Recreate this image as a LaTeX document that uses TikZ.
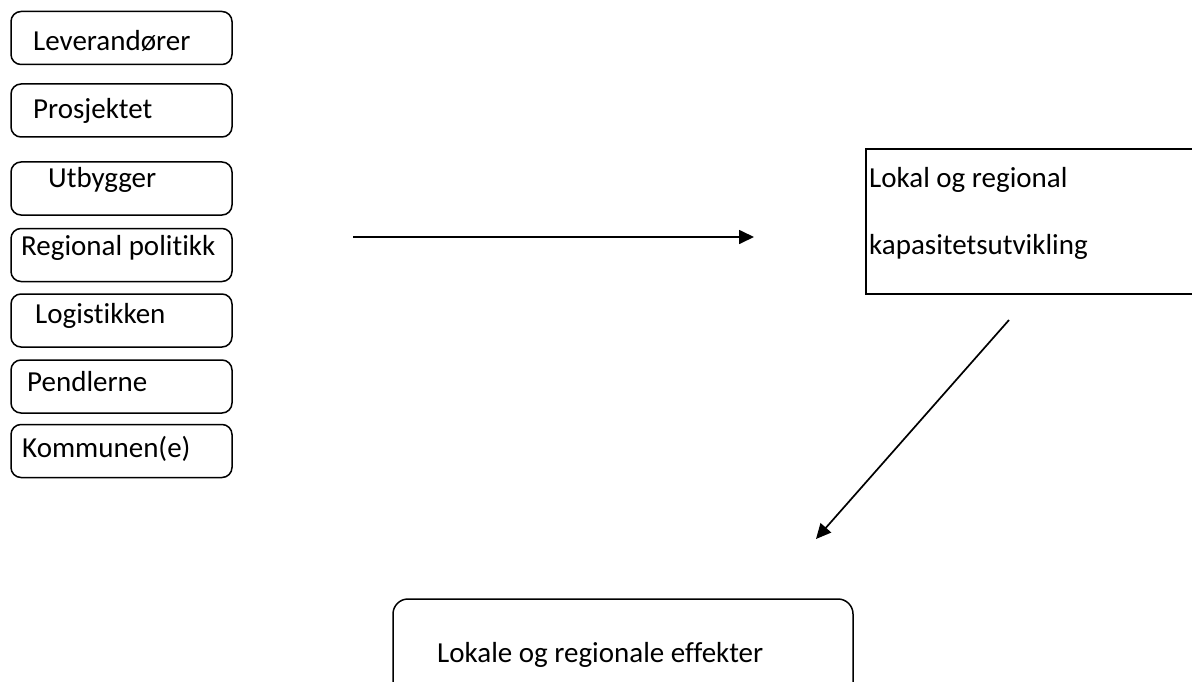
\documentclass[tikz,border=0pt]{standalone}
\usepackage{fontspec}
\setmainfont[Ligatures={NoCommon}]{Carlito}
\usetikzlibrary{positioning, arrows.meta}
\tikzset{pil/.style={line width=1.7pt, -{Triangle[length=15pt,width=14pt]}}}
\tikzset{boks/.style={draw, rounded corners=10pt, line width=1.5pt, inner sep=0pt, minimum width=221pt, minimum height=53pt}}
\tikzset{tekst/.style={anchor=base west, inner sep=0pt, font=\fontsize{29}{35}\selectfont}}

\begin{document}
\begin{tikzpicture}[
            x = 1pt, y = -1pt
        ]
            \useasboundingbox (0,0) rectangle (1192,682);
            \clip (0,0) rectangle (1192,682);

            % venstre kolonne
            \node[boks] (1) at (121.5,38) {};
            \node[boks] (2) at (121.5,110.5) {};
            \node[boks] (3) at (121.5,188.5) {};
            \node[boks] (4) at (121.5,255) {};
            \node[boks] (5) at (121.5,320.5) {};
            \node[boks] (6) at (121.5,386.5) {};
            \node[boks] (7) at (121.5,451) {};

            \node[tekst] (t1) at (33,51) {Leverandører};
            \node[tekst] (t2) at (33,119) {Prosjektet};
            \node[tekst] (t3) at (48,187) {Utbygger};
            \node[tekst] (t4) at (21,255) {Regional politikk};
            \node[tekst] (t5) at (35,323) {Logistikken};
            \node[tekst] (t6) at (27,391) {Pendlerne};
            \node[tekst] (t7) at (22,457) {Kommunen(e)};

            % kapasitet og effekter
            \node[boks, rounded corners=0pt, minimum width=340pt, minimum height=145pt] (8) at (1036,221.5) {};
            \node[tekst] (t8) at (869,187) {Lokal og regional};
            \node[tekst] (t9) at (869,254) {kapasitetsutvikling};

            \node[boks, rounded corners=15pt, minimum width=460pt, minimum height=125pt] (9) at (623,661.5) {};
            \node[tekst] (t10) at (437,662) {Lokale og regionale effekter};

            \coordinate (a1) at (353,237);
            \coordinate (a2) at (754,237);
            \coordinate (b1) at (1009,320);
            \coordinate (b2) at (816,539);

            \draw[pil] (a1) to (a2);
            \draw[pil] (b1) to (b2);
        \end{tikzpicture}
\end{document}
